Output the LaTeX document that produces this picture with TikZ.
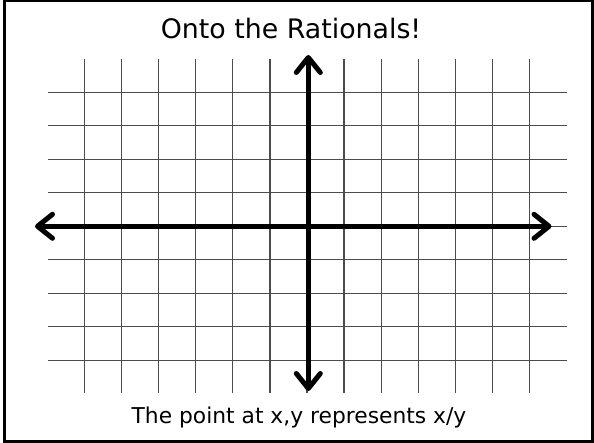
\documentclass[tikz,border=0pt]{standalone}
\usepackage{fontspec}
\setmainfont{DejaVu Sans}
\usetikzlibrary{calc,arrows.meta}
\tikzset{
  gridline/.style={black!70, line width=1.3pt},
  axis/.style={line width=5pt, arrows={Straight Barb[length=15pt, width=24pt, round]-Straight Barb[length=15pt, width=24pt, round]}}
}

\begin{document}
\begin{tikzpicture}[x=1pt, y=-1pt]
    \useasboundingbox (0,0) rectangle (594,443);
    \draw[line width=3pt] (4.3,0.8) rectangle (592.6,441.6);
    % grid
    \foreach \i in {0,...,12}
        \draw[gridline] (84.3+37.12*\i,59.3) -- (84.3+37.12*\i,393.3);
    \foreach \j in {0,...,8}
        \draw[gridline] (48.3,92.3+33.5*\j) -- (566.7,92.3+33.5*\j);
    % axes
    \coordinate (xl) at (35,226.3);
    \coordinate (xr) at (551.5,226.3);
    \coordinate (yt) at (308.3,55);
    \coordinate (yb) at (308.3,391);
    \draw[axis] (xl) -- (xr);
    \draw[axis] (yb) -- (yt);
    \node[anchor=base, font=\fontsize{26.8}{30}\selectfont] (title) at (291,38.3) {Onto the Rationals!};
    \node[anchor=base, font=\fontsize{21.8}{25}\selectfont] (note) at (299,423.3) {The point at x,y represents x/y};
\end{tikzpicture}
\end{document}
